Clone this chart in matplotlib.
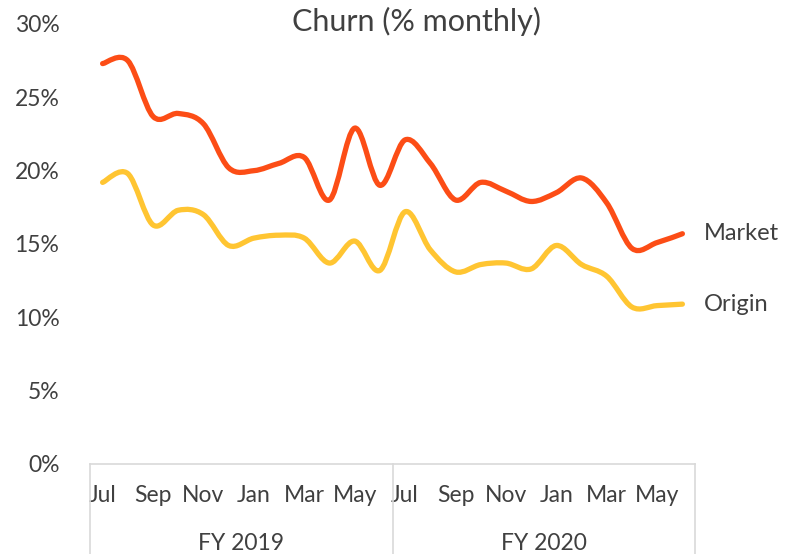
import numpy as np
import matplotlib

matplotlib.use("Agg")
import matplotlib.pyplot as plt
from matplotlib.path import Path
from matplotlib.patches import PathPatch
from matplotlib.ticker import PercentFormatter
import matplotlib.transforms as mtransforms


MONTHS = ["Jul", "Aug", "Sep", "Oct", "Nov", "Dec", "Jan", "Feb", "Mar", "Apr", "May", "Jun"] * 2
YEARS = ["FY 2019", "FY 2020"]
MARKET = [27.3, 27.5, 23.7, 23.9, 23.2, 20.2, 20.0, 20.5, 20.9, 18.0, 22.9, 19.0,
          22.1, 20.5, 18.0, 19.2, 18.6, 17.9, 18.5, 19.5, 17.8, 14.7, 15.1, 15.7]
ORIGIN = [19.2, 19.8, 16.3, 17.3, 17.0, 14.9, 15.4, 15.6, 15.4, 13.7, 15.2, 13.2,
          17.2, 14.6, 13.1, 13.6, 13.7, 13.3, 14.9, 13.6, 12.8, 10.7, 10.8, 10.9]
SERIES = [("Market", MARKET, "#FC4D16"), ("Origin", ORIGIN, "#FFC532")]
TEXT = "#404040"


def smooth_path(xs, ys):
    # cubic bezier through every point, like a spreadsheet "smoothed line"
    pts = np.column_stack([xs, ys]).astype(float)
    padded = np.vstack([pts[0], pts, pts[-1]])
    verts = [pts[0]]
    codes = [Path.MOVETO]
    for i in range(len(pts) - 1):
        p0, p1, p2, p3 = padded[i], padded[i + 1], padded[i + 2], padded[i + 3]
        verts += [p1 + (p2 - p0) / 6, p2 - (p3 - p1) / 6, p2]
        codes += [Path.CURVE4] * 3
    return Path(verts, codes)


plt.rcParams["font.family"] = ["Lato", "DejaVu Sans"]
fig = plt.figure(figsize=(7.92, 5.54), dpi=100)
ax = fig.add_axes([90 / 792, 90 / 554, 605 / 792, 440 / 554])

x = np.arange(len(MONTHS))
for name, values, color in SERIES:
    ax.add_patch(PathPatch(smooth_path(x, values), fill=False, edgecolor=color,
                           linewidth=3.8, capstyle="round", joinstyle="round"))
    ax.text(x[-1] + 0.85, values[-1], name, fontsize=17, color=TEXT, va="center", ha="left",
            clip_on=False)

ax.set_xlim(-0.5, len(MONTHS) - 0.5)
ax.set_ylim(0, 30)
ax.set_yticks(np.arange(0, 31, 5))
ax.yaxis.set_major_formatter(PercentFormatter(decimals=0))
ax.set_xticks(x[::2])
ax.set_xticklabels(MONTHS[::2])
ax.tick_params(length=0, labelsize=16.5, labelcolor=TEXT)
ax.tick_params(axis="x", pad=15)
ax.tick_params(axis="y", pad=22)
for side in ["top", "right", "left"]:
    ax.spines[side].set_visible(False)
ax.spines["bottom"].set_color("#D9D9D9")
ax.spines["bottom"].set_linewidth(1.2)

trans = mtransforms.blended_transform_factory(ax.transData, ax.transAxes)
for edge in [-0.5, 11.5, 23.5]:
    ax.plot([edge, edge], [0, -0.21], transform=trans, color="#D9D9D9", linewidth=1.2,
            clip_on=False)
for i, year in enumerate(YEARS):
    ax.text(5.5 + 12 * i, -0.18, year, transform=trans, ha="center", va="center",
            fontsize=16.5, color=TEXT)

fig.text(417 / 792, 1 - 21 / 554, "Churn (% monthly)", ha="center", va="center",
         fontsize=22, color=TEXT)

fig.savefig("out.png", dpi=100)
